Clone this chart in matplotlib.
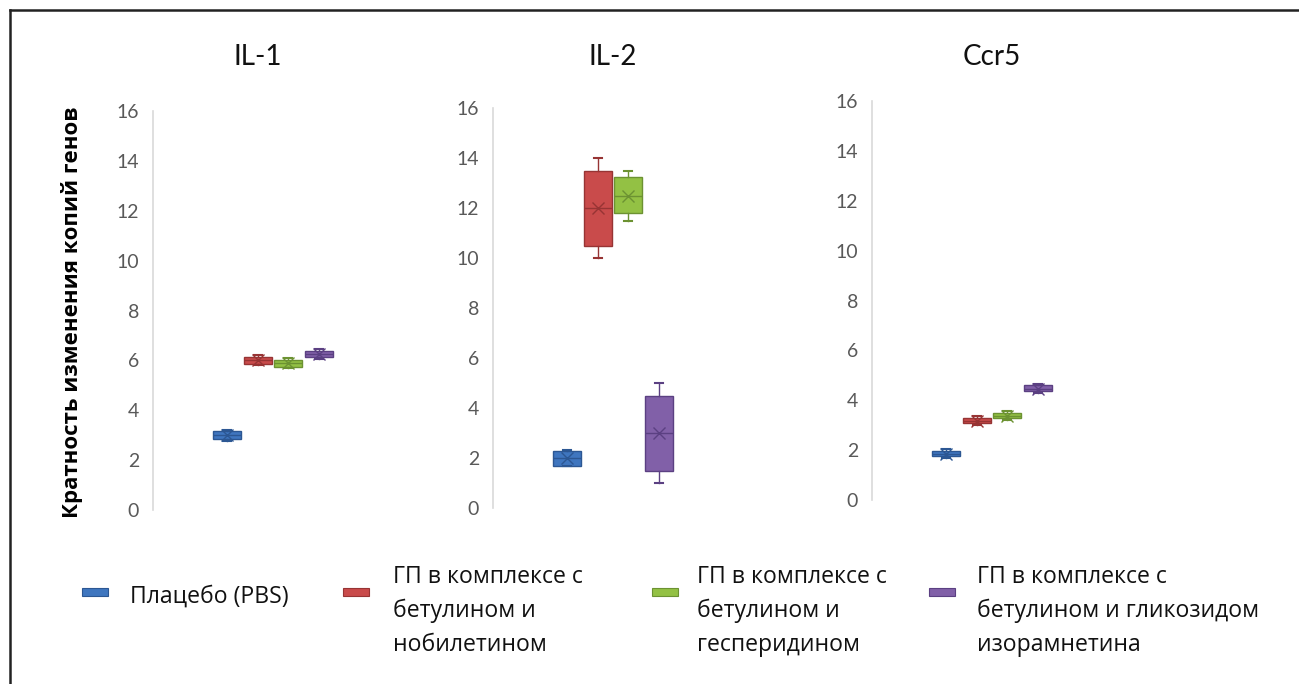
import matplotlib
matplotlib.use("Agg")
import matplotlib.pyplot as plt
from matplotlib.patches import Rectangle
from matplotlib.lines import Line2D

# ---------------- data ----------------
genes = ["IL-1", "IL-2", "Ccr5"]
groups = ["Плацебо (PBS)",
          "ГП в комплексе с\nбетулином и\nнобилетином",
          "ГП в комплексе с\nбетулином и\nгесперидином",
          "ГП в комплексе с\nбетулином и гликозидом\nизорамнетина"]
# each row: (whisker low, Q1, median, Q3, whisker high, mean)
il1_stats = [(2.78, 2.85, 3.00, 3.15, 3.22, 3.00),
             (5.80, 5.87, 6.00, 6.13, 6.20, 6.00),
             (5.70, 5.75, 5.88, 6.02, 6.10, 5.88),
             (6.05, 6.12, 6.25, 6.38, 6.45, 6.25)]
il2_stats = [(1.68, 1.70, 2.00, 2.30, 2.32, 2.00),
             (10.0, 10.5, 12.0, 13.5, 14.0, 12.0),
             (11.5, 11.8, 12.5, 13.25, 13.5, 12.5),
             (1.0, 1.5, 3.0, 4.5, 5.0, 3.0)]
ccr5_stats = [(1.70, 1.75, 1.86, 1.98, 2.05, 1.86),
              (3.00, 3.07, 3.17, 3.28, 3.35, 3.17),
              (3.22, 3.28, 3.38, 3.50, 3.56, 3.38),
              (4.30, 4.37, 4.47, 4.60, 4.66, 4.47)]
all_stats = [il1_stats, il2_stats, ccr5_stats]
yticks = [0, 2, 4, 6, 8, 10, 12, 14, 16]

# ---------------- style ----------------
fills = ["#3F76BF", "#C94B4B", "#93C144", "#8160A8"]
edges = ["#2C5793", "#973434", "#6C9232", "#5B4082"]

W, H = 1299, 684
fig = plt.figure(figsize=(W / 100, H / 100), dpi=100)

def fx(px):
    return px / W

def fy(py):
    return (H - py) / H

# panel geometry in pixels: left, right, y of 0, y of 16
panels = [(153, 363, 510, 111), (493, 733, 508, 108), (872, 1112, 500, 101)]

for gi, (gene, stats, (l, r, y0, y16)) in enumerate(zip(genes, all_stats, panels)):
    ax = fig.add_axes([fx(l), fy(y0), fx(r - l), (y0 - y16) / H])
    width_px = r - l
    positions = [74 + 30.5 * i for i in range(len(stats))]
    for i, (s, pos) in enumerate(zip(stats, positions)):
        bs = dict(whislo=s[0], q1=s[1], med=s[2], q3=s[3], whishi=s[4], mean=s[5])
        ax.bxp([bs], positions=[pos], widths=28, patch_artist=True, showmeans=True,
               showfliers=False, capwidths=[8],
               boxprops=dict(facecolor=fills[i], edgecolor=edges[i], linewidth=1.0),
               medianprops=dict(color=edges[i], linewidth=1.0),
               whiskerprops=dict(color=edges[i], linewidth=1.0),
               capprops=dict(color=edges[i], linewidth=1.5),
               meanprops=dict(marker="x", markeredgecolor=edges[i], markersize=9,
                              markeredgewidth=1.0))
    ax.set_xlim(0, width_px)
    ax.set_ylim(0, 16)
    ax.set_yticks(yticks)
    ax.set_xticks([])
    for sp in ["top", "right", "bottom"]:
        ax.spines[sp].set_visible(False)
    ax.spines["left"].set_color("#D9D9D9")
    ax.spines["left"].set_linewidth(1.2)
    ax.tick_params(axis="y", length=0, pad=10, labelsize=14, labelcolor="#595959")
    for lab in ax.get_yticklabels():
        lab.set_fontfamily(["Lato", "DejaVu Sans"])
    ax.patch.set_alpha(0)
    fig.text(fx((l + r) / 2), fy(57), gene, ha="center", va="center",
             fontsize=20, family=["Lato", "DejaVu Sans"], color="#111111")

# y-axis label
fig.text(fx(72), fy(312), "Кратность изменения копий генов", rotation=90,
         ha="center", va="center", fontsize=16, fontweight="bold",
         family=["Open Sans", "DejaVu Sans"], color="#000000")

# legend
marker_x = [82, 343, 652, 929]
text_x = [130, 393, 697, 977]
for i, lab in enumerate(groups):
    fig.patches.append(Rectangle((fx(marker_x[i]), fy(596)), fx(26), 8 / H,
                                 transform=fig.transFigure, facecolor=fills[i],
                                 edgecolor=edges[i], linewidth=0.8))
    if "\n" in lab:
        fig.text(fx(text_x[i]), fy(611), lab, ha="left", va="center",
                 fontsize=16.6, linespacing=1.53, family=["Open Sans", "DejaVu Sans"],
                 color="#111111")
    else:
        fig.text(fx(text_x[i]), fy(597), lab, ha="left", va="center",
                 fontsize=16.6, family=["Open Sans", "DejaVu Sans"], color="#111111")

# frame lines (top and left)
fig.lines.append(Line2D([fx(10), 1.0], [fy(10), fy(10)], transform=fig.transFigure,
                        color="#222222", linewidth=1.8))
fig.lines.append(Line2D([fx(10), fx(10)], [fy(10), 0.0], transform=fig.transFigure,
                        color="#222222", linewidth=1.8))

fig.savefig("out.png", dpi=100)
